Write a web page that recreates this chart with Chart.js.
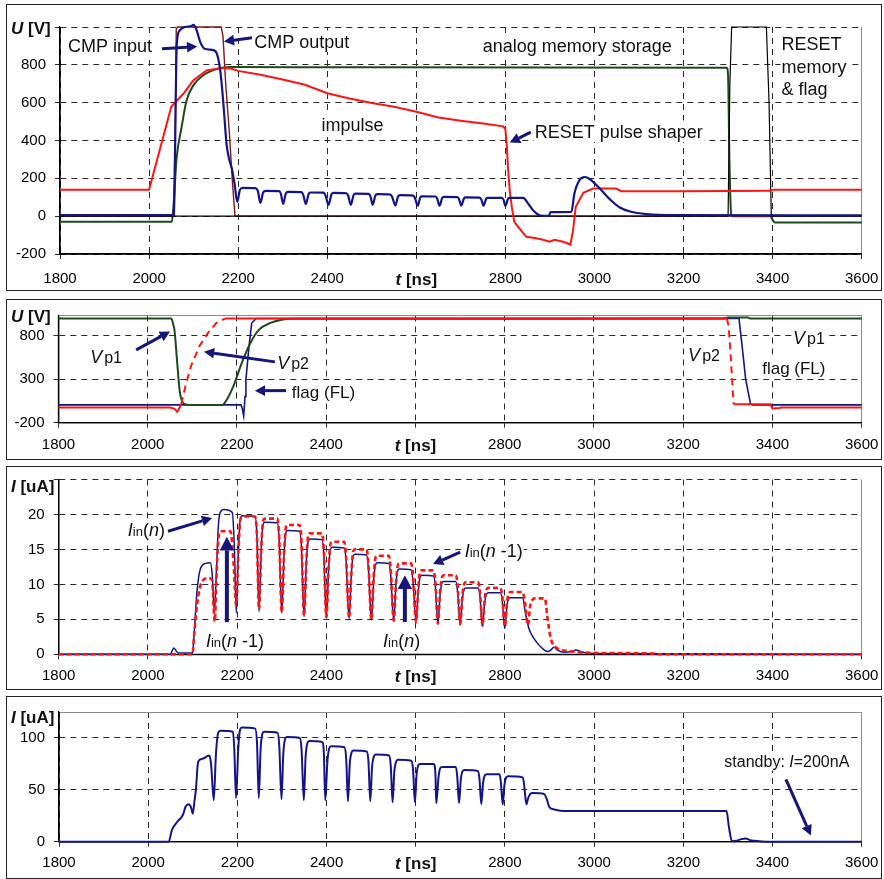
<!DOCTYPE html>
<html>
<head>
<meta charset="utf-8">
<script src="https://cdn.jsdelivr.net/npm/chart.js@4.4.1/dist/chart.umd.min.js"></script>
<style>
  html, body { margin: 0; padding: 0; background: #fff; }
  body { width: 884px; height: 879px; position: relative; overflow: hidden; }
  .frame { position: absolute; left: 6px; width: 876px; box-sizing: border-box; border: 1.5px solid #222; }
  canvas { position: absolute; left: 8px; }
</style>
</head>
<body>
<div class="frame" style="top:4px;height:287px"></div>
<div class="frame" style="top:299px;height:161px"></div>
<div class="frame" style="top:466px;height:224px"></div>
<div class="frame" style="top:696px;height:183px"></div>
<canvas id="p1" width="872" height="283" style="top:6px"></canvas>
<canvas id="p2" width="872" height="157" style="top:301px"></canvas>
<canvas id="p3" width="872" height="220" style="top:468px"></canvas>
<canvas id="p4" width="872" height="179" style="top:698px"></canvas>
<script>
// ---- axis ticks ----
const xTicks = [1800, 2000, 2200, 2400, 2600, 2800, 3000, 3200, 3400, 3600];
const tTitleAt = 2600;
const p1YTicks = [-200, 0, 200, 400, 600, 800, 1000];
const p2YTicks = [-200, 300, 800, 1030];
const p3YTicks = [0, 5, 10, 15, 20, 25];
const p4YTicks = [0, 50, 100, 125];

// ---- panel 1: U [V] ----
const cmpInput = [[1800,5],[2055,5],[2058,300],[2062,900],[2068,980],[2080,1000],[2095,1005],[2100,1012],[2105,995],[2115,920],[2125,885],[2145,878],[2152,860],[2158,800],[2163,700],[2168,560],[2174,380],[2180,300],[2186,250],[2192,170],[2198,75],[2204,140],[2210,150],[2238,148],
  [2244,135],[2250,70],[2256,125],[2262,134],[2292,132],
  [2296,118],[2301,65],[2307,120],[2312,128],[2342,127],
  [2346,114],[2352,64],[2358,116],[2362,125],[2392,124],
  [2396,110],[2403,60],[2409,112],[2413,123],[2443,121],
  [2447,108],[2453,60],[2459,110],[2463,119],[2493,118],
  [2497,105],[2502,60],[2508,108],[2512,116],[2542,114],
  [2546,100],[2553,57],[2559,104],[2563,111],[2593,109],
  [2597,96],[2603,55],[2609,100],[2613,105],[2643,104],
  [2647,92],[2652,55],[2658,96],[2662,102],[2692,101],
  [2696,90],[2701,56],[2707,94],[2711,99],[2742,98],
  [2746,88],[2751,55],[2757,93],[2761,97],[2792,97],
  [2796,86],[2800,55],[2806,92],[2810,97],[2840,97],
  [2851,67],[2862,32],[2873,9],[2885,2],[2898,2],[2901,21],[2948,22],[2955,120],[2966,190],[2978,207],[2990,195],[3012,146],[3035,88],[3057,46],[3080,25],[3117,11],[3177,5],[3600,4]];
const pulseShaper = [[1800,140],[2000,140],[2050,580],[2077,647],[2099,717],[2129,770],[2159,782],[2182,782],[2200,768],[2250,748],[2300,722],[2350,695],[2400,650],[2450,622],[2500,598],[2550,578],[2600,552],[2650,522],[2700,505],[2750,490],[2795,475],[2800,460],[2803,380],[2806,250],[2810,130],[2815,40],[2820,-30],[2830,-60],[2847,-109],[2862,-114],[2880,-122],[2900,-135],[2910,-125],[2930,-135],[2946,-150],[2952,-74],[2958,49],[2975,123],[2997,146],[3049,146],[3060,132],[3200,132],[3395,134],[3402,140],[3600,140]];
const memoryStore = [[1800,-30],[2051,-30],[2054,30],[2062,310],[2073,470],[2084,610],[2099,690],[2122,745],[2152,778],[2182,788],[2500,787],[3297,785],[3300,740],[3303,300],[3307,10],[3310,0],[3395,0],[3400,-20],[3405,-33],[3600,-33]];
const cmpOutput = [[1800,0],[2057,0],[2061,990],[2064,1000],[2162,1000],[2166,950],[2172,700],[2180,450],[2188,150],[2193,0],[3600,0]];
const resetMem = [[1800,0],[3300,0],[3304,700],[3308,1000],[3386,1000],[3392,600],[3397,0],[3600,0]];

// ---- panel 2: U [V] ----
const vp1 = [[1800,995],[2053,995],[2057,930],[2060,860],[2066,490],[2072,150],[2085,10],[2100,3],[2167,3],[2173,30],[2192,220],[2211,490],[2230,715],[2249,865],[2275,945],[2300,982],[2320,993],[3290,995],[3300,1008],[3345,1008],[3350,995],[3600,995]];
const vp2 = [[1800,-25],[2050,-25],[2060,-40],[2066,-75],[2072,-20],[2075,13],[2085,230],[2097,450],[2116,680],[2135,830],[2154,945],[2173,995],[3298,995],[3302,900],[3306,600],[3310,250],[3313,13],[3395,13],[3400,-36],[3415,-30],[3420,-25],[3600,-25]];
const vp2Dashed = [[2074, 2170], [3297, 3311]];
const flagFL = [[1800,5],[2209,5],[2212,-40],[2215,-120],[2218,100],[2220,298],[2227,678],[2233,944],[2243,995],[3325,995],[3332,678],[3340,298],[3351,13],[3356,5],[3600,5]];

// ---- panel 3: I [uA] ----
const iinN = [[1800,0],[2050,0],[2055,0.6],[2058,0.9],[2062,0.6],[2068,0.2],[2100,0.2],[2103,2.3],[2110,9],[2118,12.3],[2129,13],[2140,13.1],[2144,11.5],[2149,6.1],[2153,11],[2158,18.5],[2163,20.4],[2170,20.7],[2189,20.3],[2194,15],[2198,5.9],
  [2203,15],[2207,19.3],[2212,19.8],[2240,19.7],[2244,17.5],[2249,6.1],
  [2254,15],[2258,18.5],[2262,18.9],[2290,18.8],[2294,16.5],[2300,5.9],
  [2305,14],[2309,17.3],[2313,17.7],[2340,17.6],[2344,15.5],[2350,5.4],
  [2355,13],[2359,16.1],[2363,16.5],[2390,16.4],[2394,14.5],[2400,5.2],
  [2405,12],[2409,15],[2413,15.3],[2440,15.2],[2444,13.5],[2451,5.1],
  [2456,11.5],[2460,14],[2464,14.3],[2490,14.2],[2494,12.5],[2501,4.9],
  [2506,10.5],[2510,12.8],[2514,13.1],[2540,13],[2544,11.5],[2551,4.8],
  [2556,10],[2560,12],[2564,12.2],[2590,12.1],[2594,10.5],[2601,4.7],
  [2606,9],[2610,11],[2614,11.3],[2640,11.2],[2644,10],[2650,4.5],
  [2655,8.5],[2659,10.2],[2663,10.4],[2690,10.4],[2694,9],[2700,4.2],
  [2705,8],[2709,9.3],[2713,9.5],[2740,9.5],[2744,8.5],[2750,4],
  [2755,7.5],[2759,8.6],[2763,8.8],[2790,8.8],[2794,7.8],[2800,3.7],
  [2805,7],[2809,8],[2813,8.1],[2840,8.1],[2846,6],[2854,3.7],[2863,2.5],[2873,1.6],[2885,0.8],[2896,0.4],[2903,0.6],[2910,1.0],[2918,0.6],[2933,0.3],[2950,0.4],[2959,0.6],[2975,0.3],[3000,0.1],[3600,0]];
const iinN1 = [[1800,0],[2100,0],[2103,2.3],[2110,7],[2121,10.4],[2136,10.9],[2144,10.6],[2147,7],[2150,4.7],[2153,10],[2158,16.5],[2163,17.6],[2185,17.6],[2192,13],[2198,7],
  [2203,15],[2207,19.2],[2212,19.7],[2240,19.7],[2244,17.5],[2249,6.4],
  [2254,15],[2258,19],[2262,19.4],[2290,19.4],[2294,17],[2300,6.0],
  [2305,14],[2309,18.1],[2313,18.5],[2340,18.5],[2344,16.3],[2350,5.5],
  [2355,13],[2359,16.9],[2363,17.3],[2390,17.3],[2394,15.3],[2400,5.3],
  [2405,12.5],[2409,15.7],[2413,16.1],[2440,16.1],[2444,14.2],[2451,5.2],
  [2456,11.5],[2460,14.7],[2464,15],[2490,15],[2494,13.2],[2501,5],
  [2506,11],[2510,13.8],[2514,14.1],[2540,14.1],[2544,12.4],[2551,4.8],
  [2556,10],[2560,12.7],[2564,13],[2590,13],[2594,11.5],[2601,4.6],
  [2606,9.5],[2610,11.8],[2614,12],[2640,12],[2644,10.6],[2650,4.4],
  [2655,9],[2659,11],[2663,11.3],[2690,11.3],[2694,10],[2700,4.3],
  [2705,8.5],[2709,10.1],[2713,10.3],[2740,10.3],[2744,9.2],[2750,4.1],
  [2755,8],[2759,9.3],[2763,9.5],[2790,9.5],[2794,8.5],[2800,4.0],
  [2805,7.5],[2809,8.7],[2813,8.9],[2840,8.9],[2845,7.5],[2852,4.2],
  [2857,7],[2862,7.8],[2866,8.0],[2890,8.0],[2895,5.5],[2903,2.3],[2914,1.0],[2940,0.5],[3000,0.2],[3134,0.1],[3140,0],[3600,0]];

// ---- panel 4: I [uA] ----
const supplyI = [[1800,0],[2046,0],[2053,11],[2065,19],[2078,26],[2084,34],[2091,36],[2096,33],[2100,27],[2104,40],[2107,50],[2112,77],[2122,80],[2137,83],[2141,75],[2147,40],[2152,85],[2157,105],[2162,107],[2190,106],[2193,90],[2197,42],
  [2202,90],[2206,108],[2210,110],[2240,109],[2244,95],[2248,42],
  [2252,88],[2256,104],[2260,106],[2290,105],[2294,92],[2299,41],
  [2303,85],[2307,99],[2311,101],[2340,100],[2344,88],[2349,40],
  [2353,82],[2357,95],[2361,97],[2390,96],[2394,85],[2397,40],
  [2402,78],[2406,90],[2410,92],[2440,91],[2444,80],[2448,39],
  [2452,75],[2456,86],[2460,88],[2490,87],[2494,77],[2498,39],
  [2502,72],[2506,82],[2510,84],[2540,83],[2544,73],[2548,38],
  [2552,68],[2556,77],[2560,79],[2590,78],[2594,69],[2598,38],
  [2602,65],[2606,74],[2610,75],[2640,75],[2644,66],[2646,37],
  [2651,62],[2655,71],[2659,72],[2690,72],[2693,63],[2697,37],
  [2701,60],[2705,68],[2709,69],[2740,68],[2743,60],[2747,36],
  [2751,57],[2755,64],[2759,65],[2788,65],[2791,57],[2795,36],
  [2799,55],[2803,62],[2807,63],[2840,62],[2843,55],[2848,36],
  [2852,42],[2857,46],[2862,47],[2888,46],[2893,42],[2900,33],[2911,31],[2930,29.5],[3297,29.5],[3302,15],[3309,0.5],[3320,1],[3330,2.5],[3340,3.2],[3350,1.5],[3370,0.5],[3400,0],[3600,0]];

// ---- annotations (data coordinates) ----
const vp = s => [['V', 18, 'italic'], [s, 16, '', 2]];
const iin = s => [['I', 18, 'italic'], ['in', 13, ''], ['(', 18, ''], ['n', 18, 'italic'], [s, 18, '']];
const p1Notes = [
  { t: 1818, v: 900, parts: [['CMP input', 18, '']] },
  { t: 2236, v: 923, parts: [['CMP output', 18, '']] },
  { t: 2387, v: 483, parts: [['impulse', 18, '']] },
  { t: 2749, v: 902, parts: [['analog memory storage', 18, '']] },
  { t: 2866, v: 447, parts: [['RESET pulse shaper', 18, '']] },
  { t: 3420, v: 915, parts: [['RESET', 18, '']] },
  { t: 3420, v: 791, parts: [['memory', 18, '']] },
  { t: 3420, v: 677, parts: [['& flag', 18, '']] }
];
const p1Arrows = [[2029, 885, 2108, 897, 3], [2231, 943, 2168, 923, 3], [2857, 444, 2810, 389, 3]];
const p2Notes = [
  { t: 1871, v: 559, parts: vp('p1') },
  { t: 2290, v: 486, parts: vp('p2') },
  { t: 2323, v: 156, parts: [['flag (FL)', 17, '']] },
  { t: 3446, v: 777, parts: vp('p1') },
  { t: 3211, v: 578, parts: vp('p2') },
  { t: 3377, v: 429, parts: [['flag (FL)', 17, '']] }
];
const p2Arrows = [[1974, 636, 2050, 846, 3], [2285, 498, 2126, 613, 3], [2310, 168, 2240, 168, 3]];
const p3Notes = [
  { t: 1955, v: 17.8, parts: iin(')') },
  { t: 2130, v: 2.0, parts: iin(' -1)') },
  { t: 2527, v: 2.0, parts: iin(')') },
  { t: 2710, v: 14.9, parts: iin(' -1)') }
];
const p3Arrows = [[2045, 17.6, 2144, 19.5, 3], [2177, 4.6, 2177, 16.8, 4], [2576, 4.6, 2576, 11.3, 4], [2700, 14.6, 2639, 12.9, 3]];
const p4Notes = [
  { t: 3292, v: 77.6, parts: [['standby: ', 16, ''], ['I', 16, 'italic'], ['=200nA', 16, '']] }
];
const p4Arrows = [[3430, 60, 3486, 6, 3]];

// ---- drawing ----
const FONT = '"Liberation Sans", Arial, Helvetica, sans-serif';
const NAVY = '#15157a';
const GRID = '#2a2a2a';
const EDGE = '#8c8c8c';
Chart.defaults.font.family = FONT;
Chart.defaults.animation = false;

function drawRich(ctx, x, yc, parts, align, boxed) {
  let w = 0, big = 0;
  parts.forEach(([s, size, style, dx]) => {
    ctx.font = `${style} ${size}px ${FONT}`;
    w += ctx.measureText(s).width + (dx || 0);
    big = Math.max(big, size);
  });
  let cx = align === 'center' ? x - w / 2 : x;
  const base = yc + big * 0.36;
  if (boxed) {
    // Excel text boxes have a white fill that hides the grid behind them
    const keep = ctx.fillStyle;
    ctx.fillStyle = '#fff';
    ctx.fillRect(cx - 1, yc - big * 0.62, w + 2, big * 1.2);
    ctx.fillStyle = keep;
  }
  ctx.textBaseline = 'alphabetic';
  ctx.textAlign = 'left';
  parts.forEach(([s, size, style, dx]) => {
    ctx.font = `${style} ${size}px ${FONT}`;
    cx += dx || 0;
    ctx.fillText(s, cx, base);
    cx += ctx.measureText(s).width;
  });
}

function drawArrow(ctx, x1, y1, x2, y2, w) {
  const ang = Math.atan2(y2 - y1, x2 - x1);
  const head = w * 3.4, half = w * 1.8;
  const bx = x2 - head * Math.cos(ang), by = y2 - head * Math.sin(ang);
  ctx.strokeStyle = NAVY;
  ctx.fillStyle = NAVY;
  ctx.lineWidth = w;
  ctx.beginPath(); ctx.moveTo(x1, y1); ctx.lineTo(bx, by); ctx.stroke();
  ctx.beginPath();
  ctx.moveTo(x2, y2);
  ctx.lineTo(bx + half * Math.sin(ang), by - half * Math.cos(ang));
  ctx.lineTo(bx - half * Math.sin(ang), by + half * Math.cos(ang));
  ctx.closePath();
  ctx.fill();
}

const notesPlugin = {
  id: 'notes',
  beforeDatasetsDraw(chart) {
    // solid axis lines along the left and bottom of the plot
    const { ctx, chartArea: a } = chart;
    ctx.save();
    ctx.strokeStyle = '#000';
    ctx.lineWidth = 1.3;
    ctx.beginPath();
    ctx.moveTo(a.left, a.top); ctx.lineTo(a.left, a.bottom); ctx.lineTo(a.right, a.bottom);
    ctx.stroke();
    ctx.restore();
  },
  afterDatasetsDraw(chart, args, opts) {
    const { ctx, chartArea } = chart;
    const sx = chart.scales.x, sy = chart.scales.y;
    ctx.save();
    ctx.fillStyle = '#111';
    (opts.texts || []).forEach(n => drawRich(ctx, sx.getPixelForValue(n.t), sy.getPixelForValue(n.v), n.parts, 'left', true));
    (opts.arrows || []).forEach(a => drawArrow(ctx, sx.getPixelForValue(a[0]), sy.getPixelForValue(a[1]),
      sx.getPixelForValue(a[2]), sy.getPixelForValue(a[3]), a[4]));
    ctx.fillStyle = '#111';
    // axis titles placed where Excel put them (in place of a tick label)
    drawRich(ctx, 3, chartArea.top + opts.yTitleDy, [[opts.yName, 17, 'italic bold'], [' [' + opts.yUnit + ']', 17, 'bold']]);
    drawRich(ctx, sx.getPixelForValue(tTitleAt), chartArea.bottom + 5 + opts.xPad + 9,
      [['t', 17, 'italic bold'], [' [ns]', 17, 'bold']], 'center');
    ctx.restore();
  }
};

function xAxis(p) {
  const last = xTicks[xTicks.length - 1];
  return {
    type: 'linear', min: xTicks[0], max: last,
    afterBuildTicks: s => { s.ticks = xTicks.map(value => ({ value })); },
    afterFit: s => { s.height = p.xAxisH; s.paddingLeft = 0; s.paddingRight = 0; },
    ticks: { autoSkip: false, maxRotation: 0, padding: p.xPad, color: '#000', font: { size: 15 },
      callback: v => v === tTitleAt ? '' : String(v) },
    grid: { color: c => c.tick && c.tick.value === last ? EDGE : GRID, tickColor: GRID, tickLength: 5, lineWidth: 1 },
    border: { color: '#000', width: 1.3, dash: c => c.tick && c.tick.value !== last ? [6, 5] : [] }
  };
}

function yAxis(p) {
  const top = p.yTicks[p.yTicks.length - 1];
  const grayTop = c => p.grayTop && c.tick && c.tick.value === top;
  return {
    min: p.yTicks[0], max: top,
    afterBuildTicks: s => { s.ticks = p.yTicks.map(value => ({ value })); },
    afterFit: s => { s.width = p.yAxisW; s.paddingTop = 0; s.paddingBottom = 0; },
    ticks: { padding: 9, color: '#000', font: { size: 15 }, callback: v => v === top ? '' : String(v) },
    grid: { color: c => grayTop(c) ? EDGE : GRID, tickColor: c => grayTop(c) ? 'rgba(0,0,0,0)' : GRID, tickLength: 5, lineWidth: 1 },
    border: { color: '#000', width: 1.3, dash: c => c.tick && !grayTop(c) ? [6, 5] : [] }
  };
}

function buildPanel(id, p) {
  return new Chart(document.getElementById(id), {
    type: 'line',
    data: {
      datasets: p.series.map(s => ({
        data: s.pts.map(([x, y]) => ({ x, y })),
        borderColor: s.color,
        borderWidth: s.width,
        borderDash: s.dash || [],
        segment: s.segment,
        pointRadius: 0,
        fill: false,
        tension: 0,
        cubicInterpolationMode: s.smooth ? 'monotone' : 'default',
        clip: 6
      }))
    },
    options: {
      responsive: false,
      animation: false,
      events: [],
      layout: { padding: { left: 0, right: 18.3, top: p.padTop, bottom: 0 } },
      plugins: {
        legend: { display: false },
        tooltip: { enabled: false },
        notes: { texts: p.notes, arrows: p.arrows, yName: p.yName, yUnit: p.yUnit, yTitleDy: p.yTitleDy, xPad: p.xPad }
      },
      scales: { x: xAxis(p), y: yAxis(p) }
    },
    plugins: [notesPlugin]
  });
}

const inRanges = (t, ranges) => ranges.some(([a, b]) => t >= a && t <= b);

buildPanel('p1', {
  yTicks: p1YTicks, grayTop: false, yAxisW: 52, padTop: 21, xAxisH: 35, xPad: 11,
  yName: 'U', yUnit: 'V', yTitleDy: 1.3,
  notes: p1Notes, arrows: p1Arrows,
  series: [
    { pts: cmpInput, color: '#14148a', width: 2.2, smooth: true },
    { pts: pulseShaper, color: '#ff1414', width: 2 },
    { pts: resetMem, color: '#000000', width: 1.2 },
    { pts: cmpOutput, color: '#7d1a1a', width: 1.4 },
    { pts: memoryStore, color: '#1d4a1d', width: 2, smooth: true }
  ]
});

buildPanel('p2', {
  yTicks: p2YTicks, grayTop: true, yAxisW: 50.5, padTop: 14.5, xAxisH: 35.3, xPad: 8,
  yName: 'U', yUnit: 'V', yTitleDy: 0.5,
  notes: p2Notes, arrows: p2Arrows,
  series: [
    { pts: vp2, color: '#ff1414', width: 2,
      segment: { borderDash: c => inRanges(c.p0.parsed.x, vp2Dashed) ? [7, 5] : [] } },
    { pts: vp1, color: '#1d4a1d', width: 2, smooth: true },
    { pts: flagFL, color: '#14148a', width: 1.6 }
  ]
});

buildPanel('p3', {
  yTicks: p3YTicks, grayTop: false, yAxisW: 50.7, padTop: 11.5, xAxisH: 33.7, xPad: 8,
  yName: 'I', yUnit: 'uA', yTitleDy: 6.5,
  notes: p3Notes, arrows: p3Arrows,
  series: [
    { pts: iinN1, color: '#ff1414', width: 2.6, dash: [5, 3], smooth: true },
    { pts: iinN, color: '#14148a', width: 1.5, smooth: true }
  ]
});

buildPanel('p4', {
  yTicks: p4YTicks, grayTop: true, yAxisW: 51, padTop: 14, xAxisH: 35.3, xPad: 7.5,
  yName: 'I', yUnit: 'uA', yTitleDy: 4.7,
  notes: p4Notes, arrows: p4Arrows,
  series: [
    { pts: supplyI, color: '#14148a', width: 2, smooth: true }
  ]
});
</script>
</body>
</html>
